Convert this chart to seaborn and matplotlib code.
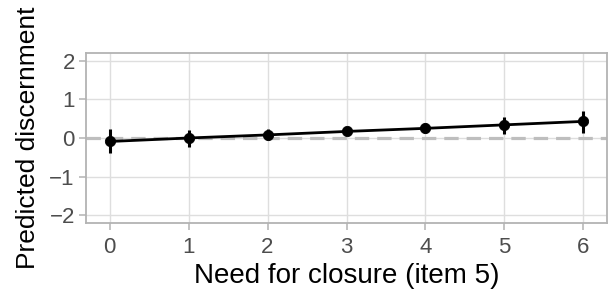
import numpy as np
import pandas as pd
import seaborn as sns
import matplotlib.pyplot as plt

closure = [0, 1, 2, 3, 4, 5, 6]
predicted = [-0.09, 0.00, 0.08, 0.17, 0.25, 0.34, 0.43]
ci_low = [-0.39, -0.22, -0.06, 0.11, 0.12, 0.11, 0.13]
ci_high = [0.23, 0.22, 0.23, 0.23, 0.40, 0.54, 0.71]

df = pd.DataFrame({'closure': closure, 'pred': predicted,
                   'lo': ci_low, 'hi': ci_high})

sns.set_style('whitegrid')
plt.rcParams['font.family'] = ['Liberation Sans', 'DejaVu Sans']

fig = plt.figure(figsize=(6.13, 3.07), dpi=100)
ax = fig.add_axes([86 / 613, 84 / 307, 521 / 613, 170 / 307])

ax.axhline(0, color='#BEBEBE', lw=2.3, ls=(0, (4.5, 2.5)), zorder=1)
ax.vlines(df['closure'], df['lo'], df['hi'], color='black', lw=2.2, zorder=3)
sns.lineplot(data=df, x='closure', y='pred', color='black', lw=2, ax=ax, zorder=3)
sns.scatterplot(data=df, x='closure', y='pred', color='black', s=55,
                edgecolor='black', ax=ax, zorder=4)

ax.set_xlim(-0.3, 6.3)
ax.set_ylim(-2.2, 2.2)
ax.set_xticks(closure)
ax.set_yticks([-2, -1, 0, 1, 2])
ax.set_yticklabels(['\u22122', '\u22121', '0', '1', '2'])

ax.grid(True, color='#DEDEDE', lw=1)
ax.set_axisbelow(True)
for s in ax.spines.values():
    s.set_color('#B3B3B3')
    s.set_linewidth(1.3)
ax.tick_params(axis='both', colors='#B3B3B3', labelcolor='#4D4D4D',
               labelsize=16, length=5, width=1.1, pad=3, direction='out',
               bottom=True, left=True)
ax.tick_params(axis='x', pad=5)

ax.set_xlabel('Need for closure (item 5)', fontsize=20, color='black', labelpad=4)
ax.set_ylabel('Predicted discernment', fontsize=19, color='black', labelpad=7)

fig.savefig('out.png', dpi=100)
